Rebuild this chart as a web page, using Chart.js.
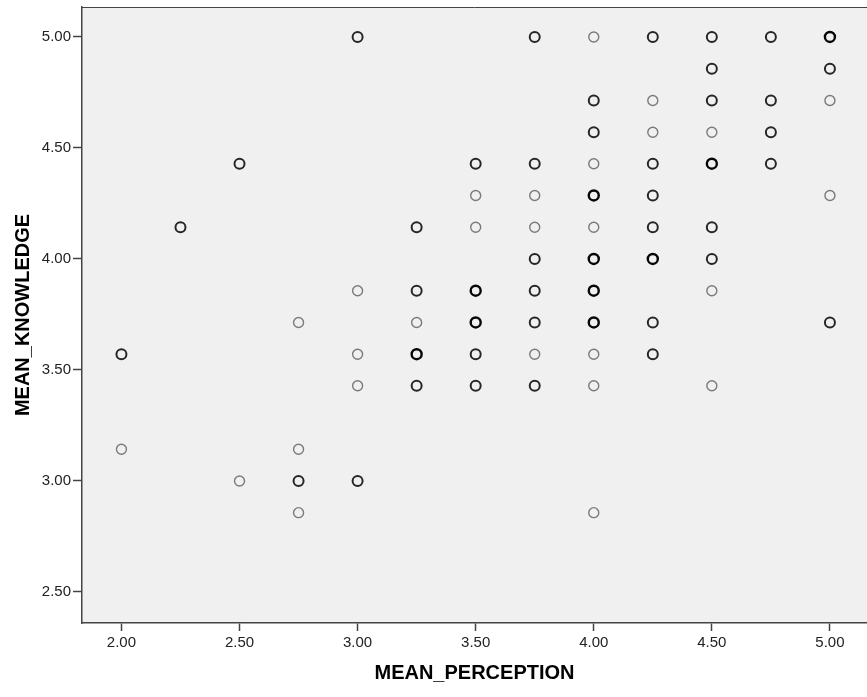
<!DOCTYPE html>
<html>
<head>
<meta charset="utf-8">
<script src="https://cdn.jsdelivr.net/npm/chart.js@4.4.1/dist/chart.umd.min.js"></script>
<style>
  html, body { margin: 0; padding: 0; background: #ffffff; }
  #wrap { width: 867px; height: 697px; }
</style>
</head>
<body>
<div id="wrap"><canvas id="chart" width="867" height="697"></canvas></div>
<script>
// tick labels
const xTicks = [2.0, 2.5, 3.0, 3.5, 4.0, 4.5, 5.0];
const yTicks = [2.5, 3.0, 3.5, 4.0, 4.5, 5.0];

// single cases (light circles)
const perceptionSingle = [2.00, 2.50, 2.75, 2.75, 2.75, 3.00, 3.00, 3.00, 3.25, 3.50, 3.50, 3.75, 3.75, 3.75,
  4.00, 4.00, 4.00, 4.00, 4.00, 4.00, 4.25, 4.25, 4.50, 4.50, 4.50, 5.00, 5.00];
const knowledgeSingle = [3.143, 3.000, 3.714, 3.143, 2.857, 3.857, 3.571, 3.429, 3.714, 4.286, 4.143, 4.286, 4.143, 3.571,
  5.000, 4.429, 4.143, 3.571, 3.429, 2.857, 4.714, 4.571, 4.571, 3.857, 3.429, 4.714, 4.286];

// a few overlapping cases (dark circles)
const perceptionDouble = [2.00, 2.25, 2.50, 2.75, 3.00, 3.00, 3.25, 3.25, 3.25, 3.50, 3.50, 3.50,
  3.75, 3.75, 3.75, 3.75, 3.75, 3.75, 4.00, 4.00, 4.25, 4.25, 4.25, 4.25, 4.25, 4.25,
  4.50, 4.50, 4.50, 4.50, 4.50, 4.75, 4.75, 4.75, 4.75, 5.00, 5.00];
const knowledgeDouble = [3.571, 4.143, 4.429, 3.000, 5.000, 3.000, 4.143, 3.857, 3.429, 4.429, 3.571, 3.429,
  5.000, 4.429, 4.000, 3.857, 3.714, 3.429, 4.714, 4.571, 5.000, 4.429, 4.286, 4.143, 3.714, 3.571,
  5.000, 4.857, 4.714, 4.143, 4.000, 5.000, 4.714, 4.571, 4.429, 4.857, 3.714];

// many overlapping cases (darkest circles)
const perceptionMulti = [3.25, 3.50, 3.50, 4.00, 4.00, 4.00, 4.00, 4.25, 4.50, 5.00];
const knowledgeMulti = [3.571, 3.857, 3.714, 4.286, 4.000, 3.857, 3.714, 4.000, 4.429, 5.000];

const pairs = (xs, ys) => xs.map((x, i) => ({ x: x, y: ys[i] }));

const plotBg = {
  id: "plotBg",
  beforeDraw(chart) {
    const { ctx, chartArea } = chart;
    ctx.save();
    ctx.fillStyle = "#f0f0f0";
    ctx.fillRect(chartArea.left, chartArea.top, chartArea.right - chartArea.left, chartArea.bottom - chartArea.top);
    ctx.restore();
  },
  afterDraw(chart) {
    const { ctx, chartArea } = chart;
    ctx.save();
    ctx.strokeStyle = "#444444";
    ctx.lineWidth = 1;
    ctx.beginPath();
    ctx.moveTo(chartArea.left, chartArea.top + 0.5);
    ctx.lineTo(chartArea.right, chartArea.top + 0.5);
    ctx.stroke();
    ctx.restore();
  },
};

const ctx = document.getElementById("chart").getContext("2d");

new Chart(ctx, {
  type: "scatter",
  data: {
    datasets: [
      {
        label: "single",
        data: pairs(perceptionSingle, knowledgeSingle),
        borderColor: "#7a7a7a",
        backgroundColor: "rgba(0,0,0,0)",
        borderWidth: 1.4,
        pointRadius: 5,
      },
      {
        label: "double",
        data: pairs(perceptionDouble, knowledgeDouble),
        borderColor: "#262626",
        backgroundColor: "rgba(0,0,0,0)",
        borderWidth: 2,
        pointRadius: 5,
      },
      {
        label: "multi",
        data: pairs(perceptionMulti, knowledgeMulti),
        borderColor: "#050505",
        backgroundColor: "rgba(0,0,0,0)",
        borderWidth: 2.4,
        pointRadius: 5,
      },
    ],
  },
  options: {
    responsive: false,
    animation: false,
    devicePixelRatio: 1,
    layout: { autoPadding: false, padding: { top: 7, left: 0, right: 0, bottom: 0 } },
    plugins: {
      legend: { display: false },
      tooltip: { enabled: false },
    },
    scales: {
      x: {
        type: "linear",
        min: 1.833,
        max: 5.157,
        afterBuildTicks: (scale) => {
          scale.ticks = xTicks.map((v) => ({ value: v }));
        },
        afterFit: (scale) => {
          scale.height = 74;
          scale.paddingLeft = 0;
          scale.paddingRight = 0;
        },
        grid: { drawOnChartArea: false, drawTicks: true, tickLength: 8, color: "#444444", tickWidth: 1.5 },
        border: { display: true, color: "#444444", width: 1.5 },
        ticks: {
          color: "#222222",
          font: { family: "'Liberation Sans', Arial, sans-serif", size: 15 },
          padding: 3,
          callback: (v) => Number(v).toFixed(2),
        },
        title: {
          display: true,
          text: "MEAN_PERCEPTION",
          color: "#000000",
          font: { family: "'Liberation Sans', Arial, sans-serif", size: 20, weight: "bold" },
          padding: { top: 0, bottom: 12 },
        },
      },
      y: {
        type: "linear",
        min: 2.36,
        max: 5.135,
        afterBuildTicks: (scale) => {
          scale.ticks = yTicks.map((v) => ({ value: v }));
        },
        afterFit: (scale) => {
          scale.width = 82;
          scale.paddingTop = 0;
          scale.paddingBottom = 0;
        },
        grid: { drawOnChartArea: false, drawTicks: true, tickLength: 9, color: "#444444", tickWidth: 1.5 },
        border: { display: true, color: "#444444", width: 1.5 },
        ticks: {
          color: "#222222",
          font: { family: "'Liberation Sans', Arial, sans-serif", size: 15 },
          padding: 2,
          callback: (v) => Number(v).toFixed(2),
        },
        title: {
          display: true,
          text: "MEAN_KNOWLEDGE",
          color: "#000000",
          font: { family: "'Liberation Sans', Arial, sans-serif", size: 20, weight: "bold" },
          padding: { top: 11, bottom: 0 },
        },
      },
    },
  },
  plugins: [plotBg],
});
</script>
</body>
</html>
